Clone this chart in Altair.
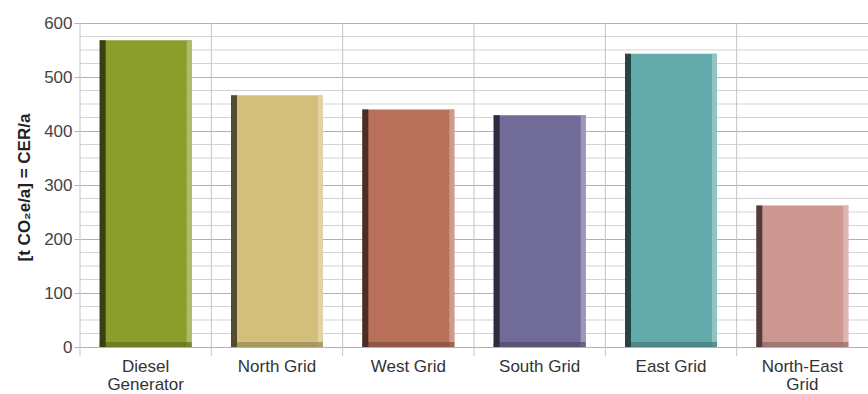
import altair as alt
import pandas as pd

# Annual emission reductions by reference electricity source
categories = ["Diesel Generator", "North Grid", "West Grid", "South Grid", "East Grid", "North-East Grid"]
values = [568, 466, 440, 429, 543, 262]
bar_colors = ["#8b9e2b", "#d3bf7a", "#b9705a", "#716b99", "#62abaa", "#cd9791"]

y_major_ticks = [0, 100, 200, 300, 400, 500, 600]
y_minor_ticks = [v for v in range(0, 601, 25) if v % 100 != 0]

PLOT_W, PLOT_H = 788, 324
FONT = "Liberation Sans"


def _mix(hex_color, target, amount):
    h = hex_color.lstrip("#")
    rgb = [int(h[i:i + 2], 16) for i in (0, 2, 4)]
    out = [round(c + (target - c) * amount) for c in rgb]
    return "#" + "".join(f"{c:02x}" for c in out)


dark_colors = [_mix(c, 0, 0.6) for c in bar_colors]
edge_colors = [_mix(c, 0, 0.3) for c in bar_colors]
light_colors = [_mix(c, 255, 0.35) for c in bar_colors]

df = pd.DataFrame({"category": categories, "value": values})
minor_df = pd.DataFrame({"value": y_minor_ticks})

y_scale = alt.Scale(domain=[0, 600], nice=False, zero=True)
x_scale = alt.Scale(paddingInner=0, paddingOuter=0)

x_axis = alt.Axis(
    title=None,
    labelExpr="length(datum.label) > 12 ? split(datum.label, ' ') : datum.label",
    ticks=False,
    domain=False,
    grid=False,
    labelAngle=0,
    labelFont=FONT,
    labelFontSize=17,
    labelColor="#333333",
    labelPadding=11,
    labelLineHeight=18,
    labelBaseline="top",
)

y_axis = alt.Axis(
    title="[t CO₂e/a] = CER/a",
    values=y_major_ticks,
    grid=True,
    gridColor="#b2b2b2",
    gridWidth=1,
    domain=False,
    ticks=True,
    tickSize=6,
    tickColor="#b2b2b2",
    labelFont=FONT,
    labelFontSize=17,
    labelColor="#444444",
    labelPadding=2,
    titleFont=FONT,
    titleFontSize=17,
    titleFontWeight="bold",
    titleColor="#222222",
    titleX=-56,
    titleY=PLOT_H / 2 + 2,
    titleAlign="center",
    titleBaseline="middle",
    titleAngle=270,
)

x_enc = alt.X("category:N", sort=categories, scale=x_scale, axis=x_axis)
y_enc = alt.Y("value:Q", scale=y_scale, axis=y_axis)


def color_enc(rng):
    return alt.Color("category:N", scale=alt.Scale(domain=categories, range=rng), legend=None)


# light minor grid between the labelled ticks
minor_grid = alt.Chart(minor_df).mark_rule(color="#d3d3d3", strokeWidth=1).encode(y=y_enc)

# category separators
separators = alt.Chart(df).mark_rule(color="#c4c4c4", strokeWidth=1).encode(
    x=alt.X("category:N", sort=categories, scale=x_scale, bandPosition=0, axis=x_axis),
    y=alt.value(0),
    y2=alt.value(PLOT_H + 9),
)

bars = alt.Chart(df).mark_bar(width=92).encode(
    x=x_enc,
    y=y_enc,
    color=color_enc(bar_colors),
)

left_edge = alt.Chart(df).mark_bar(width=6, xOffset=-43).encode(
    x=x_enc,
    y=y_enc,
    y2=alt.datum(0),
    color=color_enc(dark_colors),
)

right_edge = alt.Chart(df).mark_bar(width=5, xOffset=43.5, opacity=0.85).encode(
    x=x_enc,
    y=y_enc,
    y2=alt.datum(0),
    color=color_enc(light_colors),
)

bottom_edge = alt.Chart(df).mark_tick(orient="horizontal", thickness=5, size=92, yOffset=-2.5).encode(
    x=x_enc,
    y=y_enc,
    color=color_enc(edge_colors),
).transform_calculate(value="0")

chart = (
    alt.layer(minor_grid, separators, bars, right_edge, bottom_edge, left_edge)
    .resolve_scale(color="independent")
    .properties(
        width=PLOT_W,
        height=PLOT_H,
        autosize=alt.AutoSizeParams(type="none"),
        padding={"left": 80, "top": 23, "right": 0, "bottom": 47},
        background="white",
    )
    .configure_view(stroke=None)
)

chart.save("out.html", embed_options={"renderer": "svg", "actions": False})
